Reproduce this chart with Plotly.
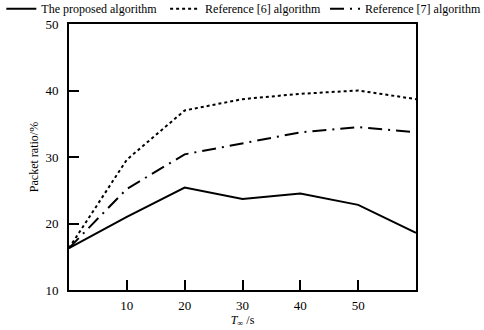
import plotly.graph_objects as go

x_vals = [0, 10, 20, 30, 40, 50, 60]
proposed = [16.3, 21.0, 25.4, 23.7, 24.5, 22.8, 18.6]
ref6 = [16.3, 29.6, 37.0, 38.7, 39.5, 40.0, 38.7]
ref7 = [16.3, 25.2, 30.4, 32.1, 33.7, 34.5, 33.7]
names = ["The proposed algorithm", "Reference [6] algorithm", "Reference [7] algorithm"]
x_ticks = [10, 20, 30, 40, 50]
y_ticks = [10, 20, 30, 40, 50]

fig = go.Figure()
fig.add_trace(go.Scatter(x=x_vals, y=proposed, mode="lines", name=names[0], legend="legend",
                         line=dict(color="black", width=2, dash="solid")))
fig.add_trace(go.Scatter(x=x_vals, y=ref6, mode="lines", name=names[1], legend="legend2",
                         line=dict(color="black", width=2, dash="dot")))
fig.add_trace(go.Scatter(x=x_vals, y=ref7, mode="lines", name=names[2], legend="legend3",
                         line=dict(color="black", width=2, dash="14px,6px,2px,6px")))

font = dict(family="Liberation Serif, Times New Roman, serif", color="black", size=13)
leg_common = dict(orientation="h", xref="paper", yref="paper", y=1.112, yanchor="top",
                  xanchor="left", bgcolor="rgba(0,0,0,0)", font=dict(size=12))
fig.update_layout(
    width=484, height=330,
    margin=dict(l=69, r=68, t=24, b=40, autoexpand=False),
    paper_bgcolor="white", plot_bgcolor="white",
    font=font,
    showlegend=True,
    legend=dict(x=-0.195, **leg_common),
    legend2=dict(x=0.277, **leg_common),
    legend3=dict(x=0.7377, **leg_common),
)
fig.update_xaxes(range=[0, 60], tickvals=x_ticks, ticks="inside", ticklen=10, tickwidth=2,
                 tickcolor="black", showline=True, linecolor="black", linewidth=2,
                 mirror=True, showgrid=False, zeroline=False, automargin=False,
                 ticklabelstandoff=2,
                 title=dict(text="<i>T</i><sub>∞</sub> /s", standoff=2, font=dict(size=12)))
fig.update_yaxes(range=[10, 50], tickvals=y_ticks, ticks="inside", ticklen=10, tickwidth=2,
                 tickcolor="black", showline=True, linecolor="black", linewidth=2,
                 mirror=True, showgrid=False, zeroline=False, automargin=False,
                 ticklabelstandoff=6,
                 title=dict(text="Packet ratio/%", standoff=4, font=dict(size=12)))
fig.write_html("out.html", config={"displayModeBar": False},
               post_script="document.body.style.margin='0';")
